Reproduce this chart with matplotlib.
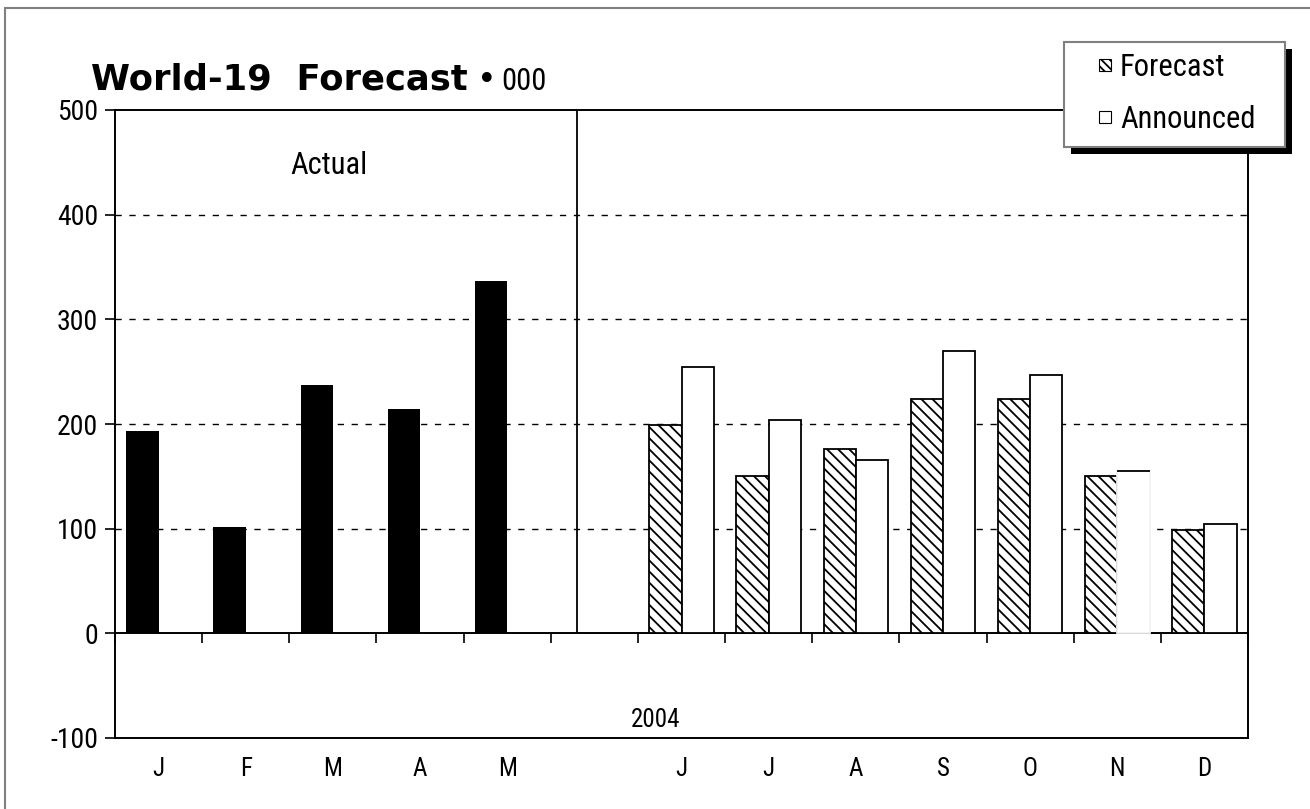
import matplotlib
matplotlib.use("Agg")
import matplotlib.pyplot as plt
from matplotlib.patches import Patch, Rectangle
from matplotlib.legend_handler import HandlerPatch
from matplotlib import font_manager
import numpy as np

# ---------------- data ----------------
months = ["J", "F", "M", "A", "M", "", "J", "J", "A", "S", "O", "N", "D"]
actual = [193, 102, 237, 214, 337]                 # Jan-May (actual)
forecast = [199, 150, 176, 224, 224, 150, 99]      # Jun-Dec
announced = [254, 204, 166, 270, 247, 155, 104]    # Jun-Dec
title_bold = "World-19  Forecast"
title_bullet = "\u2022"
title_unit = "000"
legend_labels = ["Forecast", "Announced"]
year_label = "2004"
actual_label = "Actual"
yticks = [-100, 0, 100, 200, 300, 400, 500]

names = {f.name for f in font_manager.fontManager.ttflist}
NARROW = next((c for c in ["Roboto Condensed", "Liberation Sans Narrow", "Archivo Narrow",
                           "Open Sans Condensed"] if c in names), "Liberation Sans")

plt.rcParams["hatch.linewidth"] = 1.3
plt.rcParams["hatch.color"] = "#303030"

W, H = 1310, 809
fig = plt.figure(figsize=(W / 100, H / 100), dpi=100)
fig.patch.set_facecolor("white")

ax = fig.add_axes([115 / W, 1 - 738 / H, (1248 - 115) / W, (738 - 110) / H])

x = np.arange(len(months))
act_x = x[:len(actual)]
fc_x = x[len(months) - len(forecast):]
bw = 0.37

for v in [100, 200, 300, 400]:
    ax.axhline(v, color="black", lw=1.0, ls=(0, (4.5, 5.5)), zorder=1)

ax.bar(act_x - bw / 2, actual, width=bw, color="black", edgecolor="black", lw=0, zorder=3)
ax.bar(fc_x - bw / 2, forecast, width=bw, facecolor="white", edgecolor="black",
       hatch="\\\\\\", lw=1.3, zorder=3)
ann = ax.bar(fc_x + bw / 2, announced, width=bw, facecolor="white", edgecolor="black",
             lw=1.3, zorder=3)
ann[5].set_edgecolor("#f2f2f2")
ax.hlines(announced[5], fc_x[5], fc_x[5] + bw, color="black", lw=1.3, zorder=4)

ax.vlines(4.8, 0, 500, color="black", lw=1.3, zorder=4)

ax.set_xlim(-0.5, len(months) - 0.5)
ax.set_ylim(-100, 500)
ax.set_yticks(yticks)
ax.set_yticklabels([str(v) for v in yticks], family=NARROW, fontsize=20)
ax.tick_params(axis="y", direction="out", length=7, width=1.2, pad=5)
ax.set_xticks(x)
ax.set_xticklabels(months, family=NARROW, fontsize=18)
ax.tick_params(axis="x", length=0, pad=14)
for s in ax.spines.values():
    s.set_linewidth(1.4)
    s.set_color("black")

sec = ax.secondary_xaxis(1 / 6)
sec.set_xticks(np.arange(-0.5, len(months) + 0.5, 1.0))
sec.xaxis.set_ticklabels([])
sec.tick_params(direction="out", length=7, width=1.2, bottom=True, top=False,
                labelbottom=False, labeltop=False)
sec.spines["bottom"].set_linewidth(1.4)

ax.text(1.95, 447, actual_label, family=NARROW, fontsize=22, ha="center", va="center")
ax.text(5.7, -83, year_label, family=NARROW, fontsize=18, ha="center", va="center")

# title
base_y = 1 - 90 / H
t1 = fig.text(91 / W, base_y, title_bold, family="DejaVu Sans", weight="bold",
              fontsize=25.5, va="baseline", ha="left")
fig.canvas.draw()
bb = t1.get_window_extent()
t2 = fig.text((bb.x1 + 9) / W, base_y, title_bullet, family="DejaVu Sans",
              fontsize=24, va="baseline", ha="left")
fig.canvas.draw()
bb2 = t2.get_window_extent()
fig.text((bb2.x1 + 5) / W, base_y, title_unit, family=NARROW, fontsize=22,
         va="baseline", ha="left")

# legend frame with black drop shadow
fx0, fy0, fx1, fy1 = 1064, 42, 1285, 147
fig.patches.append(Rectangle(((fx0 + 7) / W, 1 - (fy1 + 7) / H), (fx1 - fx0) / W, (fy1 - fy0) / H,
                             transform=fig.transFigure, facecolor="black", edgecolor="none",
                             zorder=2))
fig.patches.append(Rectangle((fx0 / W, 1 - fy1 / H), (fx1 - fx0) / W, (fy1 - fy0) / H,
                             transform=fig.transFigure, facecolor="white", edgecolor="#808080",
                             lw=1.5, zorder=3))


def small_square(legend, orig_handle, xdescent, ydescent, width, height, fontsize):
    s = 0.4 * fontsize
    return Rectangle((width - xdescent - s, -ydescent + (height - s) / 2), s, s)


handles = [Patch(facecolor="white", edgecolor="black", hatch="\\\\\\\\", lw=0.8),
           Patch(facecolor="white", edgecolor="black", lw=0.8)]
leg = fig.legend(handles, legend_labels, loc="upper left",
                 bbox_to_anchor=(fx0 / W, 1 - 42 / H), borderaxespad=0,
                 prop={"family": NARROW, "size": 22}, frameon=False,
                 handlelength=1.18, handleheight=0.7, handletextpad=0.3,
                 borderpad=0.35, labelspacing=0.75,
                 handler_map={Patch: HandlerPatch(patch_func=small_square)})
leg.set_zorder(6)

fig.patches.append(Rectangle((5 / W, -0.05), 1.2, 1 - 8 / H + 0.05, transform=fig.transFigure,
                             fill=False, edgecolor="#808080", lw=1.5, zorder=0))

fig.savefig("out.png", dpi=100)
